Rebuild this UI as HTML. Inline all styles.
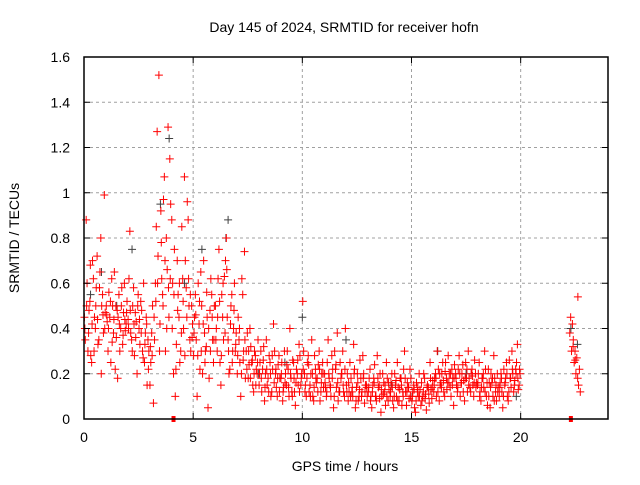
<!DOCTYPE html>
<html><head><meta charset="utf-8"><style>
body{margin:0;background:#fff}
svg text{font-family:"Liberation Sans",sans-serif;font-size:14px;fill:#000}
</style></head><body>
<svg id="chart" width="640" height="480" xmlns="http://www.w3.org/2000/svg">
<rect width="640" height="480" fill="#fff"/>
<text x="344" y="32" text-anchor="middle">Day 145 of 2024, SRMTID for receiver hofn</text>
<text x="345" y="471" text-anchor="middle">GPS time / hours</text>
<text transform="translate(19,238) rotate(-90)" text-anchor="middle">SRMTID / TECUs</text>
<g id="grid"></g><g id="marks"></g><g id="axes"></g>
</svg>
<script>
const xTicks=[0,5,10,15,20];
const yTicks=[0,0.2,0.4,0.6,0.8,1,1.2,1.4,1.6];
const yTickLabels=["0","0.2","0.4","0.6","0.8","1","1.2","1.4","1.6"];
const offsetsA=[0.02,0.1,0.18,0.27,0.35,0.43,0.52,0.6,0.68,0.77,0.85,0.93];
const offsetsB=[0.06,0.14,0.23,0.31,0.39,0.48,0.56,0.64,0.73,0.81,0.89,0.97];
const offsetsC=[0.04,0.12,0.21,0.29,0.37,0.46,0.54,0.62,0.71,0.79,0.87,0.95];
const redValuesA=[
[0.45,0.88,0.3,0.52,0.25,0.62,0.4,0.72,0.35,0.8,0.55,0.99],
[0.5,0.3,0.45,0.62,0.38,0.22,0.48,0.55,0.4,0.33,0.6,0.42],
[0.44,0.83,0.35,0.58,0.47,0.2,0.4,0.52,0.3,0.25,0.45,0.35],
[0.15,0.38,0.07,0.6,1.27,1.52,0.92,0.55,1.07,0.8,1.29,1.15],
[0.88,0.2,0.1,0.7,0.45,0.3,0.62,1.07,0.58,0.88,0.35,0.5],
[0.28,0.55,0.1,0.42,0.65,0.2,0.38,0.32,0.05,0.48,0.55,0.25],
[0.5,0.3,0.75,0.15,0.45,0.63,0.8,0.35,0.22,0.55,0.4,0.3],
[0.2,0.35,0.1,0.55,0.74,0.3,0.18,0.4,0.25,0.12,0.28,0.2],
[0.15,0.3,0.22,0.08,0.35,0.18,0.25,0.12,0.42,0.2,0.1,0.28],
[0.18,0.08,0.3,0.15,0.22,0.4,0.12,0.25,0.06,0.2,0.33,0.15],
[0.52,0.2,0.1,0.28,0.15,0.35,0.08,0.22,0.18,0.3,0.12,0.25],
[0.2,0.1,0.35,0.15,0.28,0.05,0.22,0.38,0.12,0.18,0.3,0.1],
[0.15,0.08,0.25,0.12,0.33,0.05,0.2,0.1,0.18,0.28,0.07,0.15],
[0.12,0.22,0.05,0.18,0.1,0.28,0.15,0.03,0.2,0.12,0.25,0.08],
[0.1,0.2,0.05,0.15,0.25,0.08,0.18,0.12,0.3,0.06,0.14,0.22],
[0.08,0.15,0.03,0.12,0.2,0.06,0.1,0.18,0.04,0.14,0.25,0.09],
[0.12,0.2,0.3,0.08,0.16,0.25,0.1,0.18,0.28,0.14,0.22,0.06],
[0.2,0.12,0.28,0.16,0.24,0.08,0.18,0.3,0.14,0.22,0.1,0.2],
[0.15,0.25,0.08,0.18,0.3,0.1,0.22,0.05,0.16,0.28,0.12,0.2],
[0.1,0.2,0.05,0.15,0.25,0.08,0.18,0.3,0.12,0.22,0.33,0.15]];
const redValuesB=[
[0.35,0.6,0.48,0.28,0.7,0.45,0.58,0.33,0.65,0.5,0.38,0.47],
[0.43,0.56,0.25,0.5,0.65,0.36,0.45,0.3,0.58,0.47,0.39,0.52],
[0.62,0.38,0.5,0.28,0.43,0.55,0.33,0.48,0.6,0.38,0.15,0.3],
[0.25,0.5,0.35,0.85,0.72,0.42,0.62,0.97,0.3,0.66,0.45,0.95],
[0.6,0.75,0.33,0.55,0.25,0.85,0.4,0.7,0.96,0.5,0.3,0.42],
[0.45,0.35,0.6,0.22,0.5,0.7,0.3,0.45,0.18,0.62,0.35,0.5],
[0.4,0.62,0.25,0.55,0.35,0.7,0.45,0.2,0.5,0.3,0.6,0.38],
[0.45,0.25,0.62,0.3,0.18,0.38,0.24,0.32,0.15,0.3,0.22,0.35],
[0.25,0.12,0.32,0.2,0.15,0.28,0.1,0.22,0.3,0.14,0.24,0.18],
[0.25,0.14,0.2,0.3,0.1,0.18,0.26,0.12,0.22,0.15,0.28,0.2],
[0.3,0.15,0.25,0.12,0.2,0.1,0.28,0.16,0.24,0.08,0.2,0.14],
[0.14,0.25,0.18,0.1,0.22,0.3,0.14,0.08,0.25,0.2,0.12,0.4],
[0.2,0.12,0.18,0.1,0.22,0.14,0.08,0.26,0.12,0.2,0.15,0.1],
[0.18,0.1,0.15,0.24,0.08,0.14,0.2,0.1,0.16,0.06,0.18,0.13],
[0.16,0.08,0.2,0.1,0.14,0.18,0.06,0.22,0.12,0.16,0.09,0.18],
[0.12,0.05,0.16,0.1,0.13,0.08,0.2,0.11,0.15,0.07,0.13,0.17],
[0.18,0.1,0.22,0.15,0.2,0.12,0.25,0.16,0.2,0.1,0.18,0.24],
[0.15,0.22,0.1,0.2,0.17,0.25,0.12,0.18,0.2,0.15,0.26,0.16],
[0.2,0.12,0.18,0.14,0.22,0.06,0.16,0.2,0.1,0.18,0.08,0.14],
[0.16,0.12,0.22,0.18,0.1,0.26,0.14,0.2,0.17,0.25,0.13,0.2]];
const redValuesC=[
[0.4,0.5,0.38,0.68,0.42,0.3,0.5,0.44,0.58,0.2,0.46,0.4],
[0.46,0.4,0.52,0.34,0.44,0.5,0.18,0.42,0.5,0.37,0.44,0.47],
[0.4,0.48,0.3,0.42,0.36,0.5,0.44,0.38,0.27,0.33,0.42,0.22],
[0.32,0.28,0.45,0.52,0.6,0.3,0.78,0.5,0.7,0.4,0.58,0.62],
[0.4,0.55,0.22,0.48,0.6,0.38,0.52,0.28,0.45,0.62,0.55,0.36],
[0.38,0.46,0.28,0.52,0.3,0.42,0.25,0.56,0.4,0.3,0.45,0.35],
[0.35,0.45,0.52,0.28,0.6,0.38,0.66,0.3,0.42,0.25,0.48,0.33],
[0.28,0.4,0.2,0.26,0.35,0.22,0.3,0.18,0.26,0.2,0.15,0.25],
[0.2,0.18,0.26,0.14,0.22,0.12,0.2,0.28,0.16,0.22,0.18,0.12],
[0.2,0.12,0.16,0.24,0.14,0.2,0.1,0.18,0.16,0.26,0.12,0.18],
[0.22,0.12,0.18,0.24,0.1,0.2,0.14,0.18,0.12,0.22,0.16,0.2],
[0.16,0.12,0.2,0.14,0.18,0.1,0.24,0.16,0.12,0.2,0.15,0.22],
[0.12,0.16,0.1,0.14,0.2,0.08,0.16,0.13,0.1,0.18,0.12,0.14],
[0.14,0.08,0.12,0.16,0.1,0.18,0.09,0.13,0.11,0.15,0.1,0.16],
[0.12,0.14,0.1,0.17,0.08,0.13,0.15,0.1,0.18,0.12,0.14,0.1],
[0.1,0.13,0.08,0.14,0.1,0.16,0.12,0.09,0.14,0.11,0.18,0.14],
[0.15,0.18,0.12,0.2,0.14,0.17,0.21,0.13,0.16,0.2,0.15,0.18],
[0.18,0.14,0.2,0.16,0.12,0.18,0.22,0.15,0.12,0.19,0.16,0.14],
[0.16,0.1,0.14,0.2,0.12,0.16,0.1,0.14,0.18,0.08,0.15,0.12],
[0.14,0.18,0.1,0.16,0.2,0.12,0.18,0.22,0.15,0.2,0.18,0.22]];
const lateTimes=[22.25,22.29,22.33,22.37,22.41,22.45,22.49,22.53,22.57,22.61,22.65,22.69,22.73,22.62,22.4,22.5];
const lateValues=[0.38,0.45,0.3,0.42,0.35,0.25,0.3,0.2,0.27,0.18,0.15,0.22,0.12,0.54,0.32,0.26];
const darkTimes=[0.3,0.8,2.2,3.5,3.9,4.6,5.4,6.5,6.6,8,10,12,16.2,22.3,22.6,19.8,1.5,9.2,14.1,17.5];
const darkValues=[0.55,0.65,0.75,0.95,1.24,0.6,0.75,0.8,0.88,0.2,0.45,0.35,0.3,0.4,0.33,0.1,0.5,0.25,0.15,0.2];
const zeroTimes=[4.1,22.3];

const L=84,R=608,T=57,B=419,XMAX=24,YMAX=1.6;
const sx=v=>L+(R-L)*v/XMAX, sy=v=>B-(B-T)*v/YMAX;
const NS='http://www.w3.org/2000/svg';
const mk=(tag,at,par)=>{const e=document.createElementNS(NS,tag);for(const k in at)e.setAttribute(k,at[k]);par.appendChild(e);return e;};
const grid=document.getElementById('grid'),marks=document.getElementById('marks'),axes=document.getElementById('axes');
xTicks.forEach(t=>{
 if(t>0){const g=mk('line',{x1:sx(t),x2:sx(t),y1:T,y2:B,stroke:'#a0a0a0','stroke-dasharray':'3,3'},grid);
 
 }
 const tk=mk('path',{d:`M${sx(t)} ${B}v-6M${sx(t)} ${T}v6`,stroke:'#000'},axes);
 
 
 const lb=mk('text',{x:sx(t),y:B+23,'text-anchor':'middle'},axes);lb.textContent=t;
 
 
});
yTicks.forEach((t,i)=>{
 if(t>0&&t<YMAX){const g=mk('line',{x1:L,x2:R,y1:sy(t),y2:sy(t),stroke:'#a0a0a0','stroke-dasharray':'3,3'},grid);
 
 }
 const tk=mk('path',{d:`M${L} ${sy(t)}h6M${R} ${sy(t)}h-6`,stroke:'#000'},axes);
 
 
 const lb=mk('text',{x:L-14,y:sy(t)+5,'text-anchor':'end'},axes);lb.textContent=yTickLabels[i];
 
 
});
const frame=mk('rect',{x:L,y:T,width:R-L,height:B-T,fill:'none',stroke:'#000','stroke-width':1.5},axes);


function plus(t,v,col,name){
 const p=mk('path',{d:`M${sx(t)-4} ${sy(v)}h8M${sx(t)} ${sy(v)-4}v8`,stroke:col,'stroke-width':1},marks);
 
 
}
darkTimes.forEach((t,i)=>plus(t,darkValues[i],'#404040','dark-point'));
redValuesA.forEach((row,h)=>row.forEach((v,j)=>plus(h+offsetsA[j],v,'#ff0000','red-point')));
redValuesB.forEach((row,h)=>row.forEach((v,j)=>plus(h+offsetsB[j],v,'#ff0000','red-point')));
redValuesC.forEach((row,h)=>row.forEach((v,j)=>plus(h+offsetsC[j],v,'#ff0000','red-point')));
lateTimes.forEach((t,i)=>plus(t,lateValues[i],'#ff0000','red-point'));
zeroTimes.forEach(t=>{
 const r=mk('rect',{x:sx(t)-2,y:B-3,width:4,height:6,fill:'#ff0000'},marks);
 
 
});
</script>
</body></html>
